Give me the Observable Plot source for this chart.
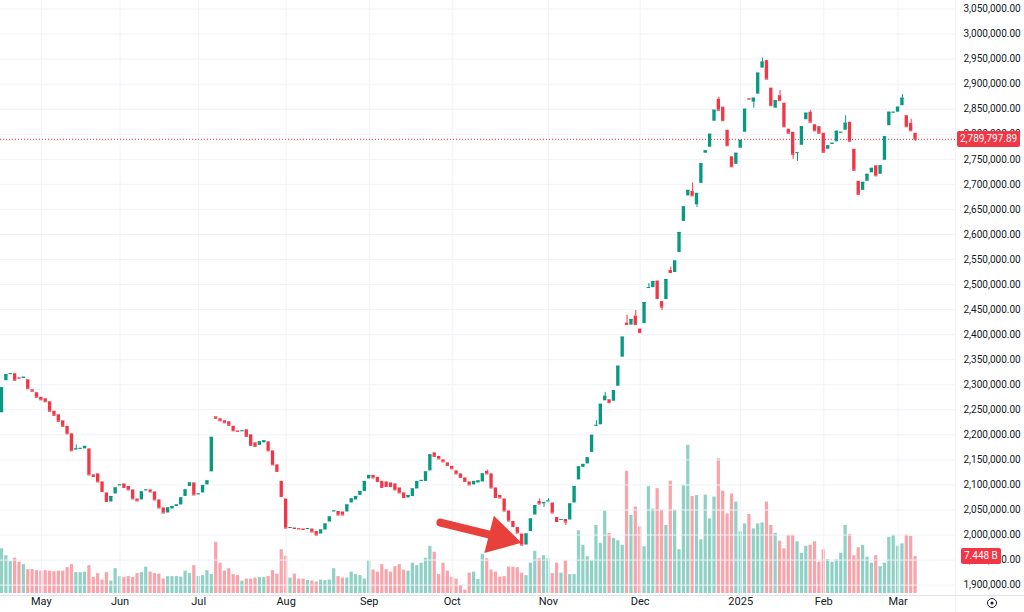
<!DOCTYPE html>
<html><head><meta charset="utf-8">
<script src="https://cdn.jsdelivr.net/npm/d3@7"></script>
<script src="https://cdn.jsdelivr.net/npm/@observablehq/plot@0.6"></script>
<style>
html,body{margin:0;padding:0;background:#fff;}
#wrap{position:relative;width:1024px;height:612px;overflow:hidden;font-family:Roboto,"Noto Sans",sans-serif;}
#wrap svg{position:absolute;left:0;top:0;background:transparent;}
.tag{position:absolute;color:#fff;font-size:10px;line-height:16px;height:16px;padding:0 3px;border-radius:2px;background:#f23645;white-space:nowrap;}
</style></head><body><div id="wrap"></div>
<script>
// prices in thousands (2310 = 2,310,000)
const opens = [2244,2308,2321,2322,2314,2313,2310,2290,2284,2275,2272,2266,2247,2240,2228,2217,2202,2170,2172,2172,
2172,2120,2122,2106,2084,2066,2082,2099,2102,2097,2090,2072,2070,2089,2090,2086,2070,2054,2044,2052,
2057,2060,2077,2097,2104,2081,2084,2100,2126,2236,2232,2228,2226,2217,2208,2207,2210,2200,2184,2179,
2184,2186,2168,2140,2107,2072,2014,2014,2013,2012,2011,2012,2007,2002,2010,2026,2047,2047,2046,2046,
2064,2070,2079,2087,2112,2119,2115,2107,2106,2104,2102,2094,2084,2074,2077,2092,2108,2107,2128,2164,
2157,2150,2144,2137,2128,2122,2114,2106,2100,2104,2106,2127,2122,2094,2079,2072,2048,2027,2015,2002,
1980,2007,2040,2067,2062,2067,2064,2035,2030,2031,2030,2064,2110,2135,2142,2165,2218,2220,2268,2270,
2267,2297,2355,2423,2419,2437,2411,2422,2493,2494,2507,2466,2470,2528,2524,2564,2626,2677,2686,2659,
2702,2762,2774,2826,2870,2854,2808,2755,2740,2772,2804,2871,2864,2880,2932,2947,2892,2852,2877,2862,
2810,2804,2762,2778,2829,2844,2819,2815,2802,2770,2780,2785,2803,2808,2824,2770,2706,2688,2706,2723,
2737,2720,2748,2817,2843,2844,2857,2837,2822,2802];
const closes = [2294,2320,2322,2309,2313,2315,2292,2287,2275,2270,2266,2247,2239,2227,2217,2202,2168,2172,2173,2177,
2120,2117,2106,2087,2067,2077,2094,2100,2095,2090,2072,2068,2086,2090,2086,2070,2054,2044,2054,2057,
2060,2074,2090,2104,2080,2082,2099,2108,2195,2233,2228,2224,2219,2208,2207,2208,2197,2179,2177,2186,
2188,2168,2140,2127,2077,2014,2015,2013,2012,2011,2013,2006,2000,2010,2022,2036,2048,2040,2040,2060,
2072,2077,2087,2107,2119,2114,2107,2095,2097,2097,2090,2084,2075,2079,2092,2107,2109,2126,2160,2157,
2152,2146,2139,2132,2122,2115,2107,2100,2107,2108,2122,2122,2094,2075,2074,2048,2028,2017,2004,1980,
2002,2032,2059,2062,2065,2068,2044,2027,2031,2026,2062,2097,2136,2141,2154,2199,2219,2261,2277,2264,
2288,2337,2395,2420,2430,2420,2404,2464,2494,2506,2472,2455,2510,2524,2547,2604,2655,2688,2677,2682,
2741,2767,2800,2848,2848,2827,2777,2735,2762,2788,2850,2870,2872,2922,2944,2910,2857,2867,2867,2815,
2802,2760,2763,2815,2842,2824,2807,2802,2764,2777,2782,2806,2804,2822,2786,2728,2680,2704,2720,2732,
2717,2737,2795,2844,2844,2854,2872,2815,2807,2789.79789];
// volume in billions
const volumes = [9.0,7.6,6.4,7.1,6.3,5.8,4.8,4.8,4.6,4.5,4.6,4.5,4.4,4.5,4.5,5.2,5.8,4.2,4.2,4.3,
5.6,3.2,4.0,2.7,4.2,2.5,5.0,3.4,3.2,3.4,3.2,4.0,4.2,5.3,4.3,4.0,3.9,2.9,3.4,3.4,
3.4,3.3,4.5,4.0,5.6,3.4,3.6,4.6,3.8,10.3,6.1,4.5,5.0,3.8,3.6,2.5,2.9,2.9,3.1,3.2,
3.2,3.4,4.6,3.9,8.8,7.5,3.1,3.9,2.9,2.9,2.6,2.5,2.3,2.7,2.6,2.7,5.0,3.4,3.1,3.1,
4.3,3.8,3.6,2.9,6.6,4.7,4.3,5.8,4.8,4.3,5.4,5.8,4.7,4.5,6.1,5.6,6.1,7.1,9.5,8.3,
3.8,6.1,4.5,3.3,2.9,1.6,0.7,4.1,4.3,2.8,7.9,7.0,4.7,4.3,3.3,3.4,5.3,5.3,5.2,4.1,
3.6,6.1,8.5,7.0,7.6,7.0,4.0,6.1,4.1,6.6,3.8,3.8,12.6,9.7,7.4,6.6,13.7,10.1,16.6,12.1,
11.1,10.6,9.7,24.6,15.7,17.4,13.4,9.4,21.5,17.0,21.1,16.8,13.7,22.6,16.8,8.8,21.8,29.8,19.5,19.7,
10.8,19.8,15.0,19.4,27.1,20.6,16.0,20.0,18.4,12.4,14.0,15.9,13.0,14.0,14.2,18.4,13.7,12.1,10.5,9.0,
11.7,11.7,10.4,8.1,9.5,9.7,10.4,6.3,8.8,6.8,6.3,6.8,8.1,13.7,11.9,7.6,9.2,9.7,7.3,6.1,
7.6,5.4,6.1,11.3,11.7,9.5,10.0,11.8,11.5,7.448];
const upperWicks = [[17,2180],[111,2130],[123,2072],[125,2073],[136,2228],[138,2285],[143,2439],[145,2448],[148,2502],[153,2535],[158,2703],[164,2874],[174,2952],[178,2887],[185,2848],[193,2837],[206,2879],[208,2830]];
const lowerWicks = [[124,2055],[129,2019],[151,2448],[159,2654],[172,2852],[181,2750],[182,2746],[209,2786]];
const priceTicks = [1900,1950,2000,2050,2100,2150,2200,2250,2300,2350,2400,2450,2500,2550,2600,2650,2700,2750,2800,2850,2900,2950,3000,3050];
const monthTicks = [9,27,45,65,84,103,125,146,169,188,205];
const monthLabels = ["May","Jun","Jul","Aug","Sep","Oct","Nov","Dec","2025","Feb","Mar"];
const arrowTail = {i:100.3, p:2025};
const arrowHead = {i:113.9, p:1995.7};

const UP="#089981", DOWN="#f23645", GRID="#eff2f7", TXT="#131722";
const candles = opens.map((o,i)=>({i, o, c:closes[i], v:volumes[i], up: closes[i]>=o}));
const W=1024, H=612;
const xDom=[-0.343, 218.14];
const half=0.38;

const volPlot = Plot.plot({
  width:W, height:H, marginLeft:0, marginRight:69, marginTop:0, marginBottom:19,
  x:{domain:xDom, axis:null}, y:{domain:[0,119.3], axis:null},
  style:{background:"transparent"},
  marks:[
    Plot.rectY(candles,{x1:d=>d.i-0.37, x2:d=>d.i+0.37, y1:0, y2:"v", fill:d=>d.up?UP:DOWN, fillOpacity:0.45})
  ]
});

const fmt = d3.format(",.2f");
const last = candles[candles.length-1];
const pricePlot = Plot.plot({
  width:W, height:H, marginLeft:0, marginRight:69, marginTop:0, marginBottom:17,
  x:{domain:xDom, axis:null}, y:{domain:[1879.3,3067], axis:null},
  style:{background:"transparent", fontFamily:'Roboto, "Noto Sans", sans-serif', color:TXT},
  marks:[
    Plot.ruleY(priceTicks,{stroke:GRID, strokeWidth:1}),
    Plot.ruleX(monthTicks,{stroke:GRID, strokeWidth:1}),
    Plot.axisY(priceTicks,{anchor:"right", tickSize:0, tickPadding:8, tickFormat:d=>fmt(d*1000), fontSize:10, fill:TXT}),
    Plot.text(monthTicks,{x:d=>d, text:(d,k)=>monthLabels[k], frameAnchor:"bottom", dy:9, fontSize:11, fill:TXT, fontWeight:(d,k)=>monthLabels[k]==="2025"?"bold":"normal"}),
    Plot.ruleY([last.c],{stroke:DOWN, strokeDasharray:"1,2", strokeWidth:1}),
    Plot.ruleX(upperWicks,{x:d=>d[0], y1:d=>Math.max(opens[d[0]],closes[d[0]]), y2:d=>d[1], stroke:d=>candles[d[0]].up?UP:DOWN, strokeWidth:1}),
    Plot.ruleX(lowerWicks,{x:d=>d[0], y1:d=>Math.min(opens[d[0]],closes[d[0]]), y2:d=>d[1], stroke:d=>candles[d[0]].up?UP:DOWN, strokeWidth:1}),
    Plot.rect(candles,{x1:d=>d.i-half, x2:d=>d.i+half, y1:"o", y2:"c", fill:d=>d.up?UP:DOWN}),
    Plot.ruleY(candles,{x1:d=>d.i-half, x2:d=>d.i+half, y:"c", stroke:d=>d.up?UP:DOWN, strokeWidth:1}),
    Plot.link([0],{x1:()=>arrowTail.i, y1:()=>arrowTail.p, x2:()=>arrowHead.i, y2:()=>arrowHead.p, stroke:"#e8413c", strokeWidth:8, strokeLinecap:"round"}),
    Plot.dot([0],{x:()=>arrowHead.i, y:()=>arrowHead.p, symbol:"triangle", r:14.3, fill:"#e8413c", rotate:104.3})
  ]
});

const wrap=document.getElementById("wrap");
wrap.appendChild(volPlot);
wrap.appendChild(pricePlot);

const yS = pricePlot.scale("y"), vS = volPlot.scale("y");
const t1=document.createElement("div"); t1.className="tag";
t1.textContent=fmt(last.c*1000);
t1.style.left="957px"; t1.style.top=(yS.apply(last.c)-8)+"px";
wrap.appendChild(t1);
const t2=document.createElement("div"); t2.className="tag";
t2.textContent=last.v.toFixed(3)+" B";
t2.style.left="961px"; t2.style.top=(vS.apply(last.v)-8)+"px";
wrap.appendChild(t2);
// bottom time axis border and settings icon
const ns="http://www.w3.org/2000/svg";
const deco=document.createElementNS(ns,"svg");
deco.setAttribute("width",W); deco.setAttribute("height",H);
deco.innerHTML='<line x1="0" x2="1024" y1="595.5" y2="595.5" stroke="#e0e3eb"/><line x1="955.5" x2="955.5" y1="0" y2="612" stroke="#f0f3fa"/><circle cx="992" cy="603" r="4.5" fill="none" stroke="#131722" stroke-width="1"/><circle cx="992" cy="603" r="1.5" fill="#131722"/>';
deco.style.pointerEvents="none";
wrap.appendChild(deco);
</script></body></html>
